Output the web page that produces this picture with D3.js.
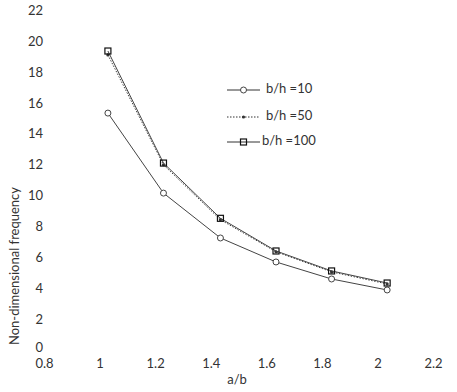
<!DOCTYPE html>
<html>
<head>
<meta charset="utf-8">
<script src="https://cdn.jsdelivr.net/npm/d3@7"></script>
<style>
  body { margin: 0; background: #fff; }
  svg text { font-family: Lato, "Open Sans", sans-serif; fill: #333; }
</style>
</head>
<body>
<svg id="chart_svg" width="457" height="392"></svg>
<script>
// values
const ratioAB = [1.03, 1.23, 1.435, 1.635, 1.835, 2.035];
const freqBH10 = [15.34, 10.17, 7.27, 5.72, 4.62, 3.91];
const freqBH50 = [19.1, 12.0, 8.45, 6.38, 5.08, 4.30];
const freqBH100 = [19.35, 12.11, 8.54, 6.43, 5.14, 4.36];
const xTicks = [0.8, 1, 1.2, 1.4, 1.6, 1.8, 2, 2.2];
const yTicks = [0, 2, 4, 6, 8, 10, 12, 14, 16, 18, 20, 22];
const seriesNames = ['b/h =10', 'b/h =50', 'b/h =100'];

function drawChart() {
    const svg = d3.select('#chart_svg');

    const xScale = d3.scaleLinear()
        .domain([0.8, 2.2])
        .range([44, 433]);
    const yScale = d3.scaleLinear()
        .domain([0, 22])
        .range([350.5, 10]);

    // tick labels only, no axis lines
    const xAxis = svg.append('g')
        .attr('transform', 'translate(0,351)')
        .call(d3.axisBottom(xScale).tickValues(xTicks).tickSize(0).tickPadding(8).tickFormat(d3.format('')));
    xAxis.select('.domain').remove();
    xAxis.selectAll('text').style('font-size', '13px').style('fill', '#333');

    const yAxis = svg.append('g')
        .attr('transform', 'translate(49,0)')
        .call(d3.axisLeft(yScale).tickValues(yTicks).tickSize(0).tickPadding(6));
    yAxis.select('.domain').remove();
    yAxis.selectAll('text').style('font-size', '13px').style('fill', '#333');
    // the "0" label sits just above "0.8", as in the original
    yAxis.selectAll('text').filter(d => d === 0).attr('dy', '0.1em');

    const series = [
        { name: seriesNames[0], values: freqBH10, marker: 'circle', dash: null },
        { name: seriesNames[1], values: freqBH50, marker: 'dot', dash: '1.5,1.5' },
        { name: seriesNames[2], values: freqBH100, marker: 'square', dash: null }
    ];

    const line = d3.line()
        .x(d => xScale(d[0]))
        .y(d => yScale(d[1]));

    function addMarker(g, type, cx, cy) {
        if (type === 'circle') {
            g.append('circle').attr('cx', cx).attr('cy', cy).attr('r', 3)
                .style('fill', '#fff').style('stroke', '#444').style('stroke-width', 1);
        } else if (type === 'square') {
            g.append('rect').attr('x', cx - 3).attr('y', cy - 3).attr('width', 6).attr('height', 6)
                .style('fill', 'none').style('stroke', '#111').style('stroke-width', 1.2);
        } else {
            g.append('circle').attr('cx', cx).attr('cy', cy).attr('r', 1.6)
                .style('fill', '#333');
        }
    }

    series.forEach(s => {
        const pts = ratioAB.map((x, i) => [x, s.values[i]]);
        svg.append('path')
            .datum(pts)
            .attr('d', line)
            .style('fill', 'none')
            .style('stroke', '#444')
            .style('stroke-width', 1)
            .style('stroke-dasharray', s.dash);
        const mg = svg.append('g');
        pts.forEach(p => addMarker(mg, s.marker, xScale(p[0]), yScale(p[1])));
    });

    // legend
    const legendY = [90, 117, 142];
    series.forEach((s, i) => {
        const g = svg.append('g');
        g.append('line')
            .attr('x1', 227).attr('x2', 260)
            .attr('y1', legendY[i]).attr('y2', legendY[i])
            .style('stroke', '#333').style('stroke-width', 1)
            .style('stroke-dasharray', s.dash);
        addMarker(g, s.marker, 243.5, legendY[i]);
        g.append('text')
            .attr('x', i === 2 ? 262 : 266)
            .attr('y', legendY[i] - 2)
            .attr('dy', '0.35em')
            .style('font-size', '13px')
            .text(s.name);
    });

    // axis titles
    svg.append('text')
        .attr('x', 237)
        .attr('y', 384)
        .style('text-anchor', 'middle')
        .style('font-size', '13px')
        .text('a/b');
    svg.append('text')
        .attr('transform', 'rotate(-90)')
        .attr('x', -266)
        .attr('y', 19)
        .style('text-anchor', 'middle')
        .style('font-size', '13px')
        .text('Non-dimensional frequency');
}

drawChart();
</script>
</body>
</html>
